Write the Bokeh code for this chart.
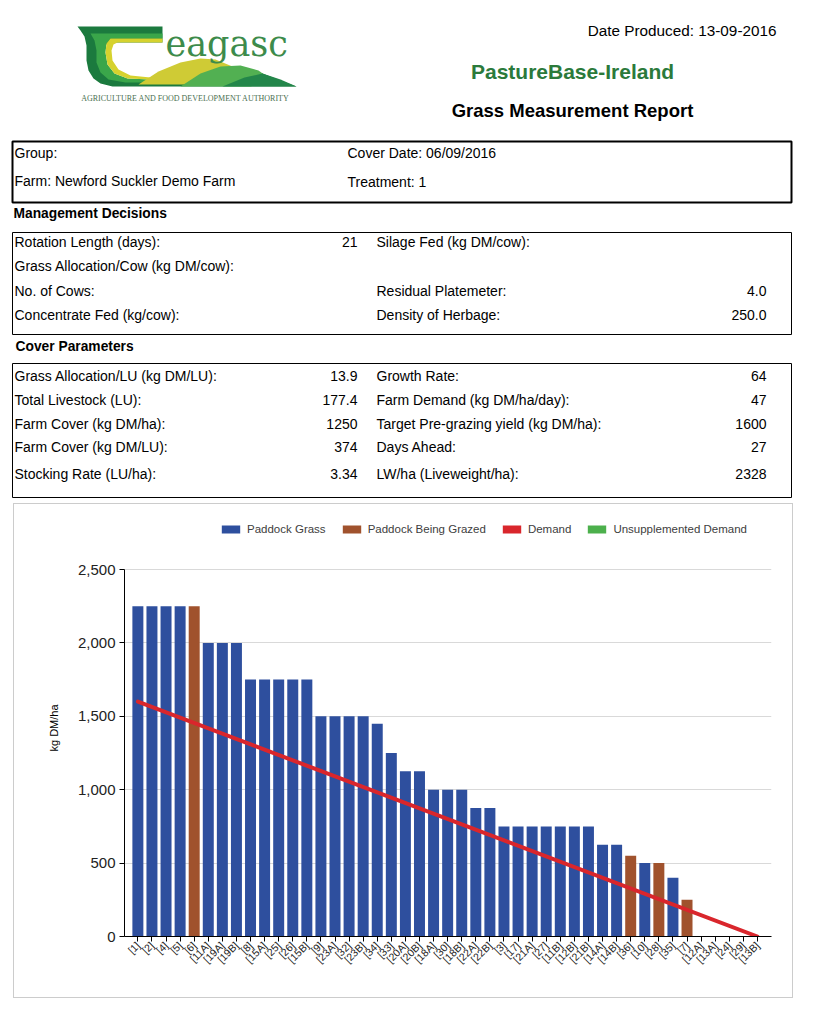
import math
from bokeh.plotting import figure
from bokeh.models import (ColumnDataSource, Range1d, FixedTicker, NumeralTickFormatter,
                          Legend, LegendItem, Title)
from bokeh.core.properties import value
from bokeh.embed import file_html
from bokeh.resources import INLINE

# ---------------- data ----------------
paddocks = ["[1]", "[2]", "[4]", "[5]", "[6]", "[11A]", "[19A]", "[19B]", "[8]", "[15A]",
            "[25]", "[26]", "[15B]", "[9]", "[23A]", "[32]", "[23B]", "[34]", "[33]", "[20A]",
            "[20B]", "[18A]", "[30]", "[18B]", "[22A]", "[22B]", "[3]", "[17]", "[21A]", "[27]",
            "[11B]", "[12B]", "[21B]", "[14A]", "[14B]", "[36]", "[10]", "[28]", "[35]", "[7]",
            "[12A]", "[13A]", "[24]", "[29]", "[13B]"]
cover = [2250, 2250, 2250, 2250, 2250, 2000, 2000, 2000, 1750, 1750,
         1750, 1750, 1750, 1500, 1500, 1500, 1500, 1450, 1250, 1125,
         1125, 1000, 1000, 1000, 875, 875, 750, 750, 750, 750,
         750, 750, 750, 625, 625, 550, 500, 500, 400, 250,
         0, 0, 0, 0, 0]
being_grazed = ["[6]", "[36]", "[28]", "[7]"]
demand_paddocks = ["[1]", "[13B]"]
demand = [1600, 0]
y_ticks = [0, 500, 1000, 1500, 2000, 2500]
legend_labels = ["Paddock Grass", "Paddock Being Grazed", "Demand", "Unsupplemented Demand"]

date_produced = "Date Produced: 13-09-2016"
header_left = ["Group:", "Farm: Newford Suckler Demo Farm"]
header_right = ["Cover Date: 06/09/2016", "Treatment: 1"]

mgmt_left_labels = ["Rotation Length (days):", "Grass Allocation/Cow (kg DM/cow):", "No. of Cows:", "Concentrate Fed (kg/cow):"]
mgmt_left_values = ["21", "", "", ""]
mgmt_right_labels = ["Silage Fed (kg DM/cow):", "", "Residual Platemeter:", "Density of Herbage:"]
mgmt_right_values = ["", "", "4.0", "250.0"]

cov_left_labels = ["Grass Allocation/LU (kg DM/LU):", "Total Livestock (LU):", "Farm Cover (kg DM/ha):",
                   "Farm Cover (kg DM/LU):", "Stocking Rate (LU/ha):"]
cov_left_values = ["13.9", "177.4", "1250", "374", "3.34"]
cov_right_labels = ["Growth Rate:", "Farm Demand (kg DM/ha/day):", "Target Pre-grazing yield (kg DM/ha):",
                    "Days Ahead:", "LW/ha (Liveweight/ha):"]
cov_right_values = ["64", "47", "1600", "27", "2328"]

# ---------------- styles ----------------
FONT = "Liberation Sans"
BLUE = "#2e4f9e"
BROWN = "#a0522d"
RED = "#d9262c"
GREEN = "#4cb04c"
DKGREEN = "#1b7a3e"
BODY = 14

# ---------------- top (report header), page pixel coordinates ----------------
top = figure(width=810, height=503, x_range=Range1d(0, 810), y_range=Range1d(503, 0),
             output_backend="svg", toolbar_location=None, min_border=0,
             x_axis_location=None, y_axis_location=None)
top.grid.visible = False
top.outline_line_color = None


def txt(x, y, s, size, align="left", bold=False, color="#000000", font=FONT, baseline="middle"):
    top.text(x=[x], y=[y], text=[s], text_font=value(font), text_font_size=f"{size}px",
             text_align=align, text_baseline=baseline, text_color=color,
             text_font_style="bold" if bold else "normal")


# logo (drawn shapes)
outer = [(162, 26), (77, 26), (80, 30), (84, 36), (86, 45), (86, 60), (88, 70), (93, 78), (100, 83),
         (112, 86), (296, 86), (280, 80), (262, 73), (248, 69), (235, 68), (222, 70), (200, 78),
         (170, 81), (140, 81), (125, 80), (112, 76), (105, 68), (102, 56), (103, 47), (108, 42), (162, 42)]
mid = [(162, 33), (90, 33), (94, 40), (96, 50), (96, 62), (100, 72), (108, 79), (125, 82), (150, 82),
       (150, 79), (127, 78), (114, 73), (107, 64), (105, 52), (106, 43), (110, 38), (162, 38)]
yel = [(162, 38), (110, 38), (106, 43), (105, 52), (107, 64), (114, 73), (127, 78), (150, 79),
       (160, 78), (130, 75), (118, 69), (112, 60), (111, 50), (113, 44), (117, 42), (162, 42)]
hill1 = [(138, 84), (158, 71), (180, 62), (200, 58), (215, 59), (232, 66), (205, 84)]
hill2 = [(180, 86), (200, 73), (220, 66), (240, 65), (258, 70), (272, 80), (250, 86)]
hill3 = [(222, 86), (244, 77), (262, 73), (280, 79), (296, 86)]
for poly, col in [(outer, DKGREEN), (mid, "#3aa64a"), (yel, "#d6d22e"), (hill1, "#cfcb35"),
                  (hill2, "#52b052"), (hill3, "#23864a")]:
    top.patch([p[0] for p in poly], [p[1] for p in poly], fill_color=col, line_color=None)
txt(165, 43, "eagasc", 35, color="#3d8b4b", font="DejaVu Serif", baseline="alphabetic")
txt(185, 98, "AGRICULTURE AND FOOD DEVELOPMENT AUTHORITY", 8, align="center", color="#4a6f50",
    font="Liberation Serif")

txt(776, 30, date_produced, 15.3, align="right")
txt(572, 71, "PastureBase-Ireland", 21, align="center", bold=True, color="#2b7a3b")
txt(572, 110, "Grass Measurement Report", 18.5, align="center", bold=True)

# header box
top.quad(left=[12], right=[791], top=[141], bottom=[202], fill_color=None, line_color="black", line_width=2)
for s, y in zip(header_left, [152, 180]):
    txt(14, y, s, BODY)
for s, y in zip(header_right, [152, 181]):
    txt(347, y, s, BODY)

# management decisions
txt(13, 213, "Management Decisions", 13.8, bold=True)
top.quad(left=[12], right=[791], top=[232], bottom=[334], fill_color=None, line_color="black", line_width=1)
for i, y in enumerate([241, 265, 290, 314]):
    txt(14, y, mgmt_left_labels[i], BODY)
    txt(357, y, mgmt_left_values[i], BODY, align="right")
    txt(376, y, mgmt_right_labels[i], BODY)
    txt(766, y, mgmt_right_values[i], BODY, align="right")

# cover parameters
txt(15, 346, "Cover Parameters", 13.8, bold=True)
top.quad(left=[12], right=[791], top=[363], bottom=[497], fill_color=None, line_color="black", line_width=1)
for i, y in enumerate([375, 399, 423, 446, 473]):
    txt(14, y, cov_left_labels[i], BODY)
    txt(357, y, cov_left_values[i], BODY, align="right")
    txt(376, y, cov_right_labels[i], BODY)
    txt(766, y, cov_right_values[i], BODY, align="right")

# ---------------- chart ----------------
x_idx = list(range(len(paddocks)))
y_top = 2500 * 417 / 367  # extra headroom so the legend sits inside the frame
chart = figure(width=780, height=495, x_range=Range1d(-0.95, 45.0), y_range=Range1d(0, y_top),
               output_backend="svg", toolbar_location=None,
               min_border_left=110, min_border_right=23, min_border_top=15, min_border_bottom=63)
chart.styles = {"border": "1px solid #cccccc", "margin-left": "13px"}
chart.outline_line_color = None
chart.xgrid.visible = False
yt = FixedTicker(ticks=y_ticks)
chart.yaxis.ticker = yt
chart.ygrid.ticker = yt
chart.yaxis.bounds = (0, 2500)
chart.ygrid.grid_line_color = "#d9d9d9"
chart.yaxis.formatter = NumeralTickFormatter(format="0,0")
chart.yaxis.major_label_text_font = FONT
chart.yaxis.major_label_text_font_size = "15px"
chart.yaxis.major_label_text_color = "#222222"
chart.yaxis.major_label_standoff = 4
chart.yaxis.major_tick_out = 5
chart.yaxis.major_tick_in = 0
chart.yaxis.minor_tick_line_color = None
chart.yaxis.axis_line_color = "black"

# y axis title, centred on the 0-2500 span (frame has headroom for the legend)
ytitle = Title(text="kg DM/ha", align="center", offset=-25, standoff=29,
               text_font=FONT, text_font_size="11px", text_font_style="normal", text_color="#000000")
chart.add_layout(ytitle, "left")

chart.xaxis.ticker = FixedTicker(ticks=x_idx)
chart.xaxis.major_label_overrides = {i: p for i, p in enumerate(paddocks)}
chart.xaxis.major_label_orientation = math.pi / 4
chart.xaxis.major_label_text_font = FONT
chart.xaxis.major_label_text_font_size = "10.5px"
chart.xaxis.major_label_text_color = "#222222"
chart.xaxis.major_label_standoff = 2
chart.xaxis.major_tick_out = 5
chart.xaxis.major_tick_in = 0
chart.xaxis.minor_tick_line_color = None
chart.xaxis.axis_line_color = "black"

grass_src = ColumnDataSource(dict(x=[i for i, p in enumerate(paddocks) if p not in being_grazed],
                                  top=[c for p, c in zip(paddocks, cover) if p not in being_grazed]))
grazed_src = ColumnDataSource(dict(x=[i for i, p in enumerate(paddocks) if p in being_grazed],
                                   top=[c for p, c in zip(paddocks, cover) if p in being_grazed]))
r_grass = chart.vbar(x="x", top="top", width=0.78, source=grass_src, fill_color=BLUE, line_color=None)
r_grazed = chart.vbar(x="x", top="top", width=0.78, source=grazed_src, fill_color=BROWN, line_color=None)
# legend-only series (zero height, nothing visible in the plot)
r_dem_leg = chart.vbar(x=[0], top=[0], width=0.78, fill_color=RED, line_color=None)
r_uns_leg = chart.vbar(x=[0], top=[0], width=0.78, fill_color=GREEN, line_color=None)
chart.line(x=[paddocks.index(p) for p in demand_paddocks], y=demand, line_color=RED, line_width=4,
           line_cap="round")

legend = Legend(items=[LegendItem(label=lab, renderers=[r])
                       for lab, r in zip(legend_labels, [r_grass, r_grazed, r_dem_leg, r_uns_leg])],
                location=(95, 401), orientation="horizontal",
                border_line_color=None, background_fill_alpha=0,
                label_text_font=FONT, label_text_font_size="11.5px", label_text_color="#404040",
                glyph_width=23, glyph_height=10, label_height=12, padding=0, margin=0,
                spacing=14, label_standoff=5)
chart.add_layout(legend, "center")

open("out.html", "w").write(file_html([top, chart], INLINE))
